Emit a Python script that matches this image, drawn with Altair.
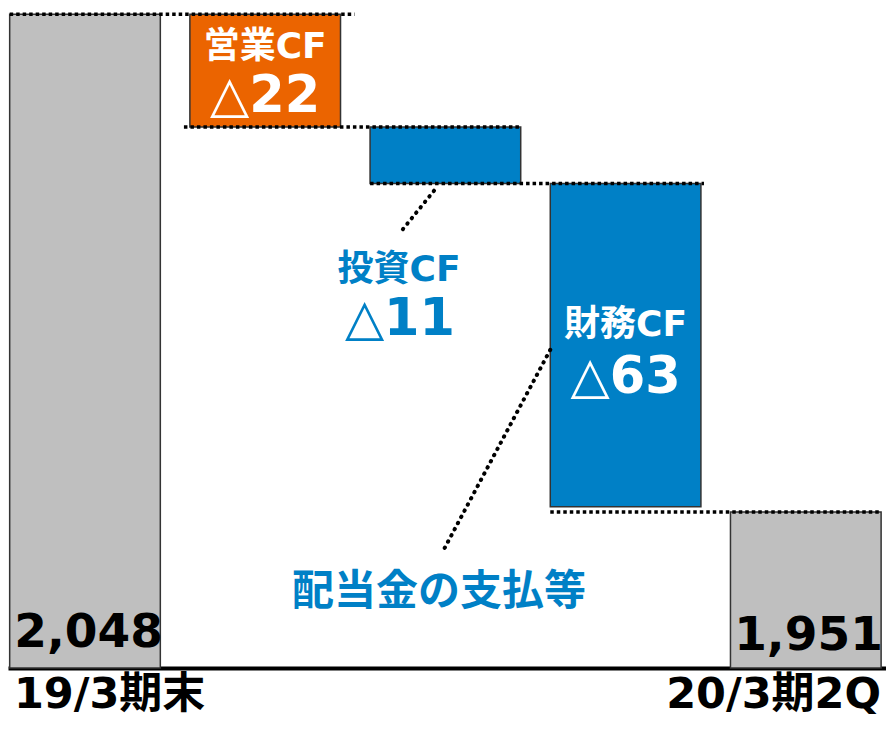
import json
import altair as alt
import pandas as pd

# ---- data ----
categories = ["19/3期末", "営業CF", "投資CF", "財務CF", "20/3期2Q"]
start_value = 2048
changes = [-22, -11, -63]
end_value = 1951
bar_kinds = ["total", "operating", "investing", "financing", "total"]
change_names = ["営業CF", "投資CF", "財務CF"]
value_texts = ["2,048", "△22", "△11", "△63", "1,951"]
note_text = "配当金の支払等"

kind_domain = ["total", "operating", "investing", "financing"]
kind_colors = ["#BFBFBF", "#EB6400", "#0080C6", "#0080C6"]

FONT = "DejaVu Sans, Noto Sans CJK JP"
Y_MIN, Y_MAX = 1920.6, 2049.2
X_MIN, X_MAX = -0.4273, 4.4451
HALF = 0.418

# ---- waterfall ----
levels = [start_value]
for c in changes:
    levels.append(levels[-1] + c)

bars = pd.DataFrame({
    "idx": list(range(5)),
    "cat": categories,
    "kind": bar_kinds,
    "top": [start_value] + levels[:-1] + [end_value],
    "bottom": [Y_MIN] + levels[1:] + [Y_MIN],
})
bars["x0"] = bars["idx"] - HALF
bars["x1"] = bars["idx"] + HALF

conn = pd.DataFrame({
    "level": [levels[0], levels[1], levels[2], end_value],
    "xa": [0 - HALF, 1 - HALF - 0.033, 2 - HALF, 3 - HALF],
    "xb": [1 + HALF + 0.078, 2 + HALF, 3 + HALF + 0.017, 4 + HALF],
})

leaders = pd.DataFrame({
    "xa": [1.937, 3 - HALF],
    "ya": [2013.6, 1982.6],
    "xb": [1.748, 1.981],
    "yb": [2005.4, 1943.0],
})

texts = pd.DataFrame({
    "text": [change_names[0], value_texts[1],
             change_names[1], value_texts[2],
             change_names[2], value_texts[3],
             note_text, value_texts[0], value_texts[4]],
    "x": [1.0, 1.0, 1.743, 1.748, 3.0, 3.0, 1.964, 0.02, 4.015],
    "y": [2041.6, 2031.9, 1998.2, 1988.4, 1987.5, 1977.1, 1935.4, 1927.5, 1926.9],
    "size": [36, 51, 36, 51, 36, 51, 42, 47, 47],
    "color": ["white", "white", "#0080C6", "#0080C6", "white", "white",
              "#0080C6", "black", "black"],
})

x_scale = alt.Scale(domain=[X_MIN, X_MAX], nice=False, zero=False)
y_scale = alt.Scale(domain=[Y_MIN, Y_MAX], nice=False, zero=False)

# first and last category labels sit (almost) flush at the two ends of the axis
label_expr = (f"datum.value < 2 ? {json.dumps(categories[0], ensure_ascii=False)} "
              f": {json.dumps(categories[-1], ensure_ascii=False)}")
x_axis = alt.Axis(
    values=[X_MIN + 0.03, X_MAX - 0.03], labelExpr=label_expr, title=None,
    grid=False, ticks=False, tickSize=0, domainColor="black", domainWidth=4,
    labelFont=FONT, labelFontSize=43, labelFontWeight="bold",
    labelColor="black", labelBaseline="alphabetic", labelPadding=39,
    labelLimit=0, labelFlush=False, labelOverlap=False,
    labelAlign={"condition": {"test": "datum.value < 2", "value": "left"},
                "value": "right"},
)

bar_layer = alt.Chart(bars).mark_rect(stroke="#333333", strokeWidth=1.5).encode(
    x=alt.X("x0:Q", scale=x_scale, axis=x_axis),
    x2="x1:Q",
    y=alt.Y("top:Q", scale=y_scale, axis=None),
    y2="bottom:Q",
    color=alt.Color("kind:N", scale=alt.Scale(domain=kind_domain, range=kind_colors), legend=None),
)

conn_layer = alt.Chart(conn).mark_rule(
    color="black", strokeWidth=3.5, strokeDash=[3.5, 3]
).encode(
    x=alt.X("xa:Q", scale=x_scale, axis=x_axis),
    x2="xb:Q",
    y=alt.Y("level:Q", scale=y_scale, axis=None),
)

leader_layer = alt.Chart(leaders).mark_rule(
    color="black", strokeWidth=4, strokeDash=[0.5, 6.5], strokeCap="round"
).encode(
    x=alt.X("xa:Q", scale=x_scale, axis=x_axis),
    x2="xb:Q",
    y=alt.Y("ya:Q", scale=y_scale, axis=None),
    y2="yb:Q",
)

text_layer = alt.Chart(texts).mark_text(
    font=FONT, fontWeight="bold", align="center", baseline="middle"
).encode(
    x=alt.X("x:Q", scale=x_scale, axis=x_axis),
    y=alt.Y("y:Q", scale=y_scale, axis=None),
    text="text:N",
    size=alt.Size("size:Q", scale=None),
    color=alt.Color("color:N", scale=None),
)

chart = alt.layer(bar_layer, conn_layer, leader_layer, text_layer).properties(
    width=878, height=660,
    autosize=alt.AutoSizeParams(type="none"),
    padding={"left": 0, "right": 0, "top": 0, "bottom": 54},
).configure_view(stroke=None)

chart.save("out.html", embed_options={"renderer": "svg", "actions": False})
